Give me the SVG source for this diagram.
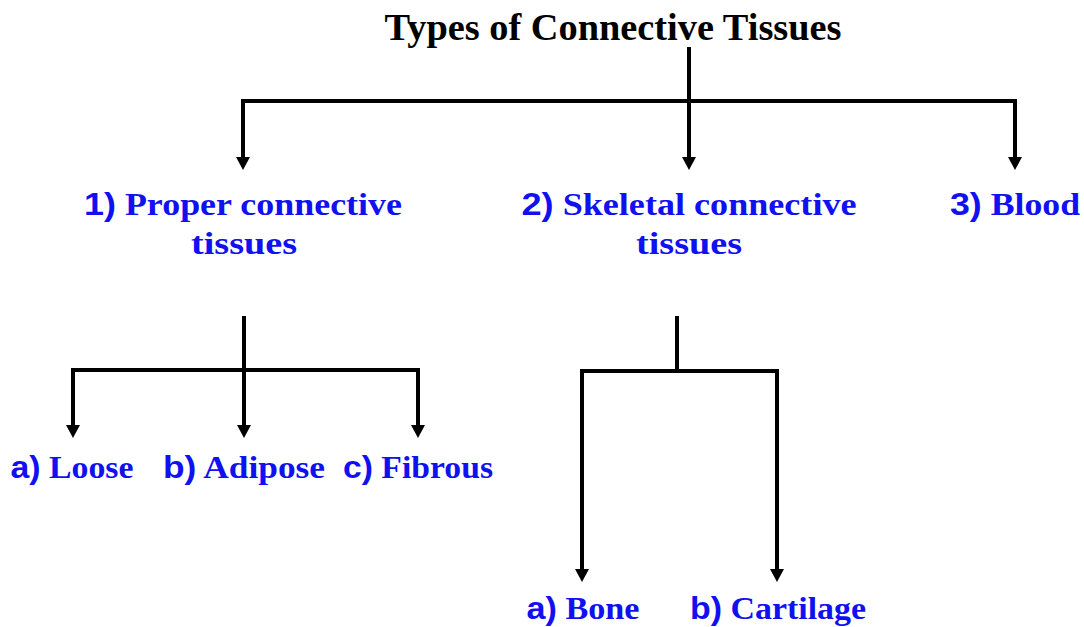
<svg xmlns="http://www.w3.org/2000/svg" width="1084" height="627" viewBox="0 0 1084 627">
<defs>
<style>
.ln{fill:none;stroke:#000;stroke-width:4;stroke-linejoin:miter;stroke-linecap:square}
.ah{fill:#000}
.lbl{font-family:"Liberation Serif","DejaVu Serif",serif;font-weight:bold;font-size:32px;fill:#1010F0}
.pre{font-family:"Liberation Sans","DejaVu Sans",sans-serif}
.title{font-family:"Liberation Serif","Times New Roman",serif;font-weight:bold;font-size:37px;fill:#000}
</style>
</defs>
<rect width="1084" height="627" fill="#fff"/>
<g id="connectors">
<path class="ln" d="M689,49 V101"/>
<path class="ln" d="M243,159 V101 H1015 V159"/>
<path class="ln" d="M689,101 V159"/>
<path class="ah" d="M236,157 L250,157 L243,170 Z"/>
<path class="ah" d="M682,157 L696,157 L689,170 Z"/>
<path class="ah" d="M1008,157 L1022,157 L1015,170 Z"/>
<path class="ln" d="M244,318 V370"/>
<path class="ln" d="M73,426 V370 H418 V426"/>
<path class="ln" d="M244,370 V426"/>
<path class="ah" d="M66,425 L80,425 L73,438 Z"/>
<path class="ah" d="M237,425 L251,425 L244,438 Z"/>
<path class="ah" d="M411,425 L425,425 L418,438 Z"/>
<path class="ln" d="M677,318 V371"/>
<path class="ln" d="M582,570 V371 H777 V570"/>
<path class="ah" d="M575,569 L589,569 L582,582 Z"/>
<path class="ah" d="M770,569 L784,569 L777,582 Z"/>
</g>
<g id="title"><text class="title" x="613" y="40" text-anchor="middle" textLength="457" lengthAdjust="spacingAndGlyphs">Types of Connective Tissues</text></g>
<g id="node-proper">
<text class="lbl" x="243" y="215" text-anchor="middle" textLength="318" lengthAdjust="spacingAndGlyphs"><tspan class="pre">1)</tspan> Proper connective</text>
<text class="lbl" x="244" y="254" text-anchor="middle" textLength="106" lengthAdjust="spacingAndGlyphs">tissues</text>
</g>
<g id="node-skeletal">
<text class="lbl" x="689" y="215" text-anchor="middle" textLength="335" lengthAdjust="spacingAndGlyphs"><tspan class="pre">2)</tspan> Skeletal connective</text>
<text class="lbl" x="689" y="254" text-anchor="middle" textLength="106" lengthAdjust="spacingAndGlyphs">tissues</text>
</g>
<g id="node-blood">
<text class="lbl" x="1015" y="215" text-anchor="middle" textLength="130" lengthAdjust="spacingAndGlyphs"><tspan class="pre">3)</tspan> Blood</text>
</g>
<g id="node-loose"><text class="lbl" x="72" y="478" text-anchor="middle" textLength="123" lengthAdjust="spacingAndGlyphs"><tspan class="pre">a)</tspan> Loose</text></g>
<g id="node-adipose"><text class="lbl" x="244" y="478" text-anchor="middle" textLength="162" lengthAdjust="spacingAndGlyphs"><tspan class="pre">b)</tspan> Adipose</text></g>
<g id="node-fibrous"><text class="lbl" x="418" y="478" text-anchor="middle" textLength="150" lengthAdjust="spacingAndGlyphs"><tspan class="pre">c)</tspan> Fibrous</text></g>
<g id="node-bone"><text class="lbl" x="583" y="619" text-anchor="middle" textLength="113" lengthAdjust="spacingAndGlyphs"><tspan class="pre">a)</tspan> Bone</text></g>
<g id="node-cartilage"><text class="lbl" x="778" y="619" text-anchor="middle" textLength="176" lengthAdjust="spacingAndGlyphs"><tspan class="pre">b)</tspan> Cartilage</text></g>
</svg>
